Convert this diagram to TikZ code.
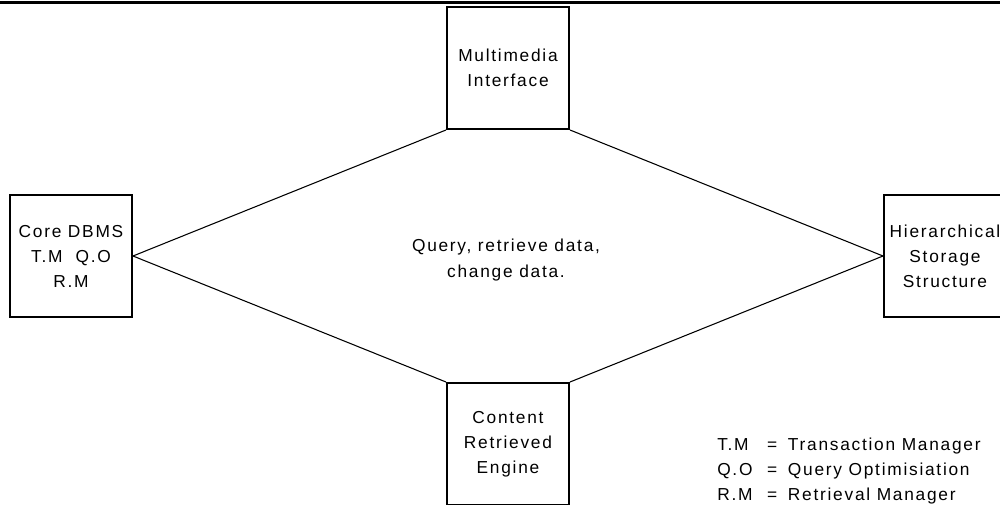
\documentclass[tikz,border=0pt]{standalone}
\usepackage{fontspec}
\setmainfont{Liberation Sans}
\newfontfamily\diagfont[LetterSpace=10]{Liberation Sans}
\begin{document}
\begin{tikzpicture}[x=0.75pt,y=-0.75pt,
  box/.style={draw=black,line width=1.5pt,minimum width=122*0.75pt,minimum height=122*0.75pt,
    inner sep=0pt,align=center,font=\diagfont\fontsize{13pt}{18.75pt}\selectfont},
  link/.style={draw=black,line width=0.8pt},
  label/.style={align=center,inner sep=0pt,font=\diagfont\fontsize{13pt}{19.5pt}\selectfont}]
\useasboundingbox (0,0) rectangle (1000,504);
% heading rule
\draw[line width=2.6pt] (0,2.5) -- (1000,2.5);
% components
\node[box] (mm)   at (508,68)  {Multimedia\\Interface};
\node[box] (core) at (71,256)  {Core DBMS\\T.M\ \ Q.O\\R.M};
\node[box] (hss)  at (945,256) {Hierarchical\\Storage\\Structure};
\node[box] (cre)  at (508,444) {Content\\Retrieved\\Engine};
% connections
\draw[link] (mm.south west) -- (core.east);
\draw[link] (mm.south east) -- (hss.west);
\draw[link] (core.east) -- (cre.north west);
\draw[link] (hss.west) -- (cre.north east);
% operations
\node[label] (ops) at (506,260) {Query, retrieve data,\\change data.};
% abbreviations
\node[anchor=north west,inner sep=0pt,font=\diagfont\fontsize{13pt}{19pt}\selectfont] (key) at (717,432)
  {\begin{tabular}{@{}l@{\hspace{11pt}}l@{\hspace{8pt}}l@{}}
   T.M & = & Transaction Manager\\
   Q.O & = & Query Optimisiation\\
   R.M & = & Retrieval Manager
  \end{tabular}};
\end{tikzpicture}
\end{document}
